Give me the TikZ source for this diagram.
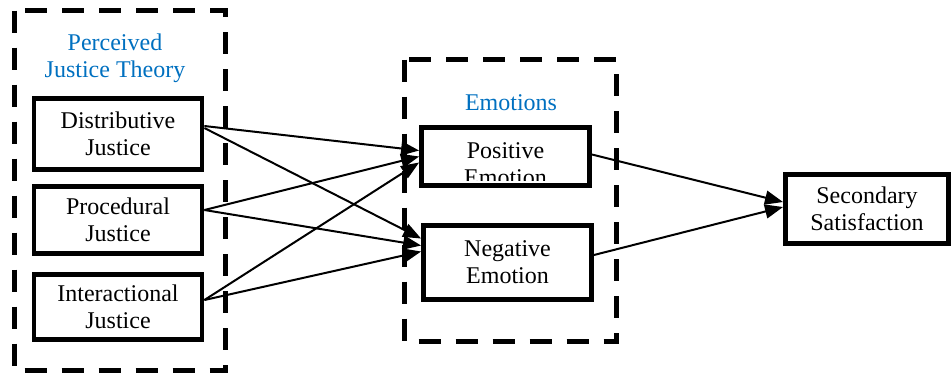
\documentclass[tikz,border=0pt]{standalone}
\usepackage{fontspec}
\setmainfont{Liberation Serif}
\usetikzlibrary{arrows.meta}
\definecolor{titleblue}{RGB}{0,112,192}
\newlength{\boxwidth}
\setlength{\boxwidth}{84pt}
\tikzset{
    box/.style={draw, line width=2.4pt, minimum width=\boxwidth, align=center,
        font=\fontsize{12}{13.5}\selectfont, inner sep=0pt},
    groupbox/.style={draw, line width=2.5pt, dash pattern=on 11pt off 7.5pt},
    grouptitle/.style={text=titleblue, align=center, font=\fontsize{12}{13.5}\selectfont},
    link/.style={line width=1pt, -{Triangle[length=9pt,width=7pt]}}
}

\begin{document}
\begin{tikzpicture}[x=0.5pt, y=-0.5pt]
    \useasboundingbox (0,0) rectangle (951,377);

    % perceived justice
    \draw[groupbox] (14.5,10.5) rectangle (225.5,370.5);
    \node[grouptitle] (pjt) at (115,58) {Perceived\\Justice Theory};
    \node[box, minimum height=35.6pt] (dist) at (118,134) {Distributive\\Justice};
    \node[box, minimum height=33.6pt] (proc) at (118,220) {Procedural\\Justice};
    \node[box, minimum height=32.6pt] (inter) at (118,307) {Interactional\\Justice};

    % emotions
    \draw[groupbox] (404.5,59.5) rectangle (616.5,341.5);
    \node[grouptitle] (emo) at (511,103) {Emotions};
    \node[box, minimum height=29pt] (pos) at (505.5,156.5) {};
    \begin{scope}
        \clip ([xshift=1.2pt]pos.north west) rectangle ([yshift=3.75pt]pos.south east);
        \node[align=center, font=\fontsize{12}{13.5}\selectfont] (postext) at ([yshift=-3.75pt]pos.center) {Positive\\Emotion};
    \end{scope}
    \node[box, minimum height=37pt] (neg) at (507.5,262.5) {Negative\\Emotion};

    \node[box, minimum width=81.6pt, minimum height=34.6pt] (sec) at (867,209) {Secondary\\Satisfaction};

    \draw[link] ([yshift=4pt]dist.east) -- ([yshift=3pt]pos.west);
    \draw[link] ([yshift=3pt]dist.east) -- ([yshift=12pt]neg.west);
    \draw[link] ([yshift=5pt]proc.east) -- (pos.west);
    \draw[link] ([yshift=5pt]proc.east) -- ([yshift=8.5pt]neg.west);
    \draw[link] ([yshift=3.5pt]inter.east) -- ([yshift=-3pt]pos.west);
    \draw[link] ([yshift=3.5pt]inter.east) -- ([yshift=5.5pt]neg.west);

    \draw[link] ([yshift=1pt]pos.east) -- ([yshift=3.5pt]sec.west);
    \draw[link] ([yshift=3.75pt]neg.east) -- ([yshift=1pt]sec.west);
\end{tikzpicture}
\end{document}
